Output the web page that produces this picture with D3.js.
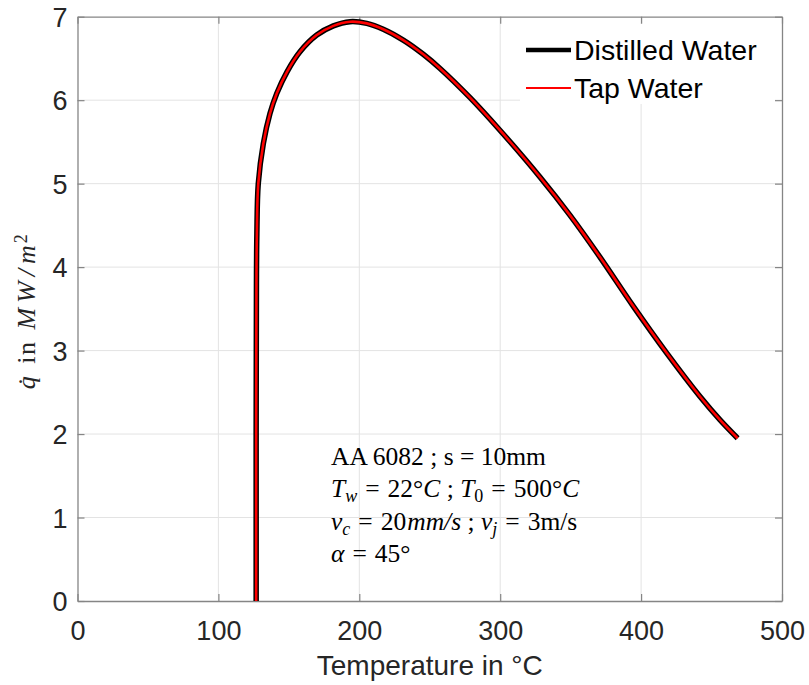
<!DOCTYPE html>
<html><head><meta charset="utf-8">
<script src="https://cdn.jsdelivr.net/npm/d3@7"></script>
<style>body{margin:0;background:#fff}svg{display:block}</style>
</head><body>
<svg id="c" width="809" height="685"></svg>
<script>
const temperature = [126.8, 126.8, 126.8, 126.9, 127.0, 127.3, 128.3, 131.9, 136.6, 141.4, 148.7, 157.9, 169.8, 181.6, 193.4, 205.3, 217.0, 231.2, 245.4, 257.3, 278.6, 299.8, 328.2, 349.6, 370.8, 394.5, 418.2, 441.8, 456.0, 468.5];
const qDistilled  = [0, 1.0, 2.0, 3.0, 3.8, 4.4, 5.0, 5.48, 5.84, 6.08, 6.34, 6.58, 6.78, 6.89, 6.94, 6.92, 6.85, 6.72, 6.55, 6.38, 6.03, 5.64, 5.08, 4.62, 4.12, 3.53, 2.97, 2.45, 2.17, 1.95];
const qTap        = [0, 1.0, 2.0, 3.0, 3.8, 4.4, 5.0, 5.48, 5.84, 6.08, 6.34, 6.58, 6.78, 6.89, 6.94, 6.92, 6.85, 6.72, 6.55, 6.38, 6.03, 5.64, 5.08, 4.62, 4.12, 3.53, 2.97, 2.45, 2.17, 1.95];
const seriesNames = ["Distilled Water", "Tap Water"];
const xTicks = [0, 100, 200, 300, 400, 500];
const yTicks = [0, 1, 2, 3, 4, 5, 6, 7];

const svg = d3.select("#c");
const L = 77.5, R = 782, T = 16.7, B = 601;
const x = d3.scaleLinear().domain([0, 500]).range([L, R]);
const y = d3.scaleLinear().domain([0, 7]).range([B, T]);
const axisCol = "#858585", txtCol = "#262626";
const sans = "'Liberation Sans', Arial, sans-serif";
const serif = "'Liberation Serif', 'DejaVu Serif', serif";

// grid
const g = svg.append("g");
g.selectAll("line.gx").data(xTicks.slice(1, -1)).enter().append("line")
  .attr("x1", d => x(d)).attr("x2", d => x(d)).attr("y1", T).attr("y2", B)
  .attr("stroke", "#e3e3e3").attr("stroke-width", 1);
g.selectAll("line.gy").data(yTicks.slice(1, -1)).enter().append("line")
  .attr("y1", d => y(d)).attr("y2", d => y(d)).attr("x1", L).attr("x2", R)
  .attr("stroke", "#e3e3e3").attr("stroke-width", 1);

// axes via d3 axis (inner ticks)
const tl = 7;
const fmt = d3.format("d");
const ax = svg.append("g").attr("transform", `translate(0,${B})`)
  .call(d3.axisBottom(x).tickValues(xTicks).tickFormat(fmt).tickSizeInner(-tl).tickSizeOuter(0).tickPadding(20));
const axT = svg.append("g").attr("transform", `translate(0,${T})`)
  .call(d3.axisTop(x).tickValues(xTicks).tickSizeInner(-tl).tickSizeOuter(0).tickFormat(""));
const ay = svg.append("g").attr("transform", `translate(${L},0)`)
  .call(d3.axisLeft(y).tickValues(yTicks).tickFormat(fmt).tickSizeInner(-tl).tickSizeOuter(0).tickPadding(10));
const ayR = svg.append("g").attr("transform", `translate(${R},0)`)
  .call(d3.axisRight(y).tickValues(yTicks).tickSizeInner(-tl).tickSizeOuter(0).tickFormat(""));
[ax, axT, ay, ayR].forEach(a => {
  a.selectAll("path.domain").attr("stroke", axisCol).attr("stroke-width", 1.3);
  a.selectAll(".tick line").attr("stroke", axisCol).attr("stroke-width", 1.2);
  a.selectAll(".tick text").attr("fill", txtCol).style("font-family", sans).style("font-size", "27px");
});
ax.selectAll(".tick text").attr("dy", "0.71em");
ay.selectAll(".tick text").attr("dy", "0.36em");

// lines
const mk = arr => temperature.map((t, i) => [t, arr[i]]);
const line = d3.line().x(d => x(d[0])).y(d => y(d[1])).curve(d3.curveCatmullRom.alpha(0.5));
svg.append("path").datum(mk(qDistilled)).attr("d", line)
  .attr("fill", "none").attr("stroke", "#000").attr("stroke-width", 5.5).attr("stroke-linejoin", "round");
svg.append("path").datum(mk(qTap)).attr("d", line)
  .attr("fill", "none").attr("stroke", "#ff0000").attr("stroke-width", 2.6).attr("stroke-linejoin", "round");

// legend
const lg = svg.append("g");
lg.append("rect").attr("x", 520).attr("y", 24).attr("width", 255).attr("height", 80).attr("fill", "#fff");
const legendStyles = [{c: "#000", w: 4.5, y: 50}, {c: "#ff0000", w: 2, y: 88}];
seriesNames.forEach((n, i) => {
  const s = legendStyles[i];
  lg.append("line").attr("x1", 526).attr("x2", 571).attr("y1", s.y).attr("y2", s.y)
    .attr("stroke", s.c).attr("stroke-width", s.w);
  lg.append("text").attr("x", 574).attr("y", s.y).attr("dy", "0.36em")
    .style("font-family", sans).style("font-size", "28.5px").attr("fill", "#000").text(n);
});

// x label
svg.append("text").attr("x", (L + R) / 2).attr("y", 675).attr("text-anchor", "middle")
  .style("font-family", sans).style("font-size", "28px").attr("fill", txtCol).text("Temperature in °C");

// y label
const yl = svg.append("text").attr("transform", `translate(35,311) rotate(-90)`)
  .attr("text-anchor", "middle").style("font-family", serif).style("font-size", "26px")
  .style("letter-spacing", "1.5px").attr("fill", txtCol);
yl.append("tspan").style("font-style", "italic").text("q\u0307");
yl.append("tspan").attr("dx", 11).text("in");
yl.append("tspan").attr("dx", 11).style("font-style", "italic").style("letter-spacing", "5px").text("MW/m");
yl.append("tspan").attr("dy", "-0.45em").attr("dx", -3).style("font-size", "18px").text("2");

// annotation
const ann = svg.append("g").style("font-family", serif).style("font-size", "25.5px").attr("fill", "#000");
const ax0 = 331;
function tl2(yb, parts) {
  const t = ann.append("text").attr("x", ax0).attr("y", yb);
  let base = 0;
  parts.forEach(p => {
    const s = t.append("tspan").text(p.t);
    if (p.i) s.style("font-style", "italic");
    if (p.dx) s.attr("dx", p.dx);
    const target = p.sub ? 5 : 0;
    if (target !== base) { s.attr("dy", target - base); base = target; }
    if (p.sub) s.style("font-size", "18px");
  });
}
const eq = 8;
tl2(465, [{t: "AA 6082 ; s = 10mm"}]);
tl2(497, [{t: "T", i: 1}, {t: "w", i: 1, sub: 1}, {t: "=", dx: eq}, {t: "22°", dx: eq}, {t: "C", i: 1}, {t: " ; "}, {t: "T", i: 1}, {t: "0", sub: 1}, {t: "=", dx: eq}, {t: "500°", dx: eq}, {t: "C", i: 1}]);
tl2(530, [{t: "v", i: 1}, {t: "c", i: 1, sub: 1}, {t: "=", dx: eq}, {t: "20", dx: eq}, {t: "mm/s", i: 1, dx: 1}, {t: " ; "}, {t: "v", i: 1}, {t: "j", i: 1, sub: 1}, {t: "=", dx: eq}, {t: "3m/s", dx: eq}]);
tl2(562, [{t: "α", i: 1}, {t: "=", dx: eq}, {t: "45°", dx: eq}]);
</script>
</body></html>
